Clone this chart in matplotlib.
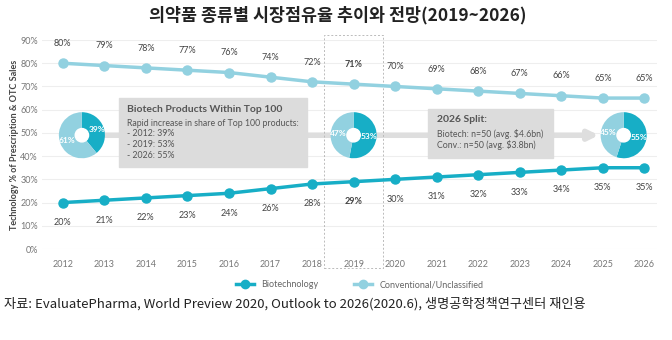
import numpy as np
import matplotlib
matplotlib.use("Agg")
import matplotlib.pyplot as plt
from matplotlib.patches import Rectangle, Circle
from matplotlib.lines import Line2D

# data
years = [2012, 2013, 2014, 2015, 2016, 2017, 2018, 2019, 2020, 2021, 2022, 2023, 2024, 2025, 2026]
biotech = [20, 21, 22, 23, 24, 26, 28, 29, 30, 31, 32, 33, 34, 35, 35]
conventional = [80, 79, 78, 77, 76, 74, 72, 71, 70, 69, 68, 67, 66, 65, 65]
pie_years = [2012.46, 2019, 2025.5]
pie_biotech = [39, 53, 55]
pie_conv = [61, 47, 45]
yticks = [0, 10, 20, 30, 40, 50, 60, 70, 80, 90]

title = "의약품 종류별 시장점유율 추이와 전망(2019~2026)"
source = "자료: EvaluatePharma, World Preview 2020, Outlook to 2026(2020.6), 생명공학정책연구센터 재인용"
box1_title = "Biotech Products Within Top 100"
box1_lines = ["Rapid increase in share of Top 100 products:", "- 2012: 39%", "- 2019: 53%", "- 2026: 55%"]
box2_title = "2026 Split:"
box2_lines = ["Biotech: n=50 (avg. $4.6bn)", "Conv.: n=50 (avg. $3.8bn)"]

c_bio = "#17aec6"
c_conv = "#92d1e0"
c_grey = "#dcdcdc"
c_text = "#555555"

plt.rcParams['font.family'] = ['Lato', 'DejaVu Sans']

fig = plt.figure(figsize=(6.72, 3.40), dpi=100)
ax = fig.add_axes([0.0625, 0.2676, 0.915, 0.6147])
ax.set_xlim(2011.5, 2026.3)
ax.set_ylim(0, 90)

for s in ax.spines.values():
    s.set_visible(False)
ax.set_yticks(yticks)
ax.set_yticklabels([f"{v}%" for v in yticks])
ax.set_xticks(years)
ax.tick_params(length=0, labelsize=6.5, labelcolor="#777777")
ax.tick_params(axis='x', pad=8)
ax.tick_params(axis='y', pad=3)
ax.grid(axis='y', color="#eeeeee", lw=0.8)
ax.set_axisbelow(True)
ax.set_ylabel("Technology % of Prescription & OTC Sales", fontsize=6.5,
              fontweight='bold', color="#444444", labelpad=1)

# connector line with arrow
ax.annotate("", xy=(2024.9, 49), xytext=(pie_years[0], 49),
            arrowprops=dict(arrowstyle="-|>", color="#dedede", lw=4,
                            mutation_scale=14, shrinkA=0, shrinkB=0), zorder=1)

# lines
ax.plot(years, conventional, '-o', color=c_conv, lw=2.5, ms=6.5, zorder=3)
ax.plot(years, biotech, '-o', color=c_bio, lw=2.5, ms=6.5, zorder=3)

for i, (x, b, c) in enumerate(zip(years, biotech, conventional)):
    w = 'bold' if x == 2019 else 'normal'
    ax.annotate(f"{c}%", (x, c), xytext=(0, 11), textcoords='offset points',
                ha='center', va='bottom', fontsize=6.5, color="#444444", fontweight=w)
    ax.annotate(f"{b}%", (x, b), xytext=(0, -11), textcoords='offset points',
                ha='center', va='top', fontsize=6.5, color="#444444", fontweight=w)

# boxes
ax.add_patch(Rectangle((2013.35, 35.3), 4.54, 29.8, color=c_grey, zorder=2))
ax.text(2013.55, 62, box1_title, fontsize=7.5, fontweight='bold', color=c_text,
        va='top', zorder=4)
for k, line in enumerate(box1_lines):
    ax.text(2013.55, 56.2 - k * 4.7, line, fontsize=6.3, color=c_text, va='top', zorder=4)

ax.add_patch(Rectangle((2020.8, 39.2), 3.0, 21.1, color=c_grey, zorder=2))
ax.text(2021.0, 57.8, box2_title, fontsize=7.5, fontweight='bold', color=c_text,
        va='top', zorder=4)
for k, line in enumerate(box2_lines):
    ax.text(2021.0, 51.8 - k * 4.7, line, fontsize=6.3, color=c_text, va='top', zorder=4)

# dashed highlight around 2019
ax.add_patch(Rectangle((2018.29, -8.2), 1.42, 100.4, fill=False, ls=(0, (2, 2)),
                       ec="#bbbbbb", lw=0.7, clip_on=False, zorder=1))

# donuts
for px, pb, pc in zip(pie_years, pie_biotech, pie_conv):
    iax = ax.inset_axes([px - 0.7, 49 - 12.4, 1.4, 24.8], transform=ax.transData, zorder=5)
    wedges, texts = iax.pie([pb, pc], colors=[c_bio, c_conv], startangle=90,
                            counterclock=False, labels=[f"{pb}%", f"{pc}%"], labeldistance=0.68,
                            wedgeprops=dict(width=0.72, edgecolor='none'),
                            textprops=dict(color='white', fontsize=6, fontweight='bold',
                                           ha='center', va='center'))
    iax.add_patch(Circle((0, 0), 0.29, color='white', zorder=3))
    iax.set_aspect('equal')
    iax.axis('off')

# legend
handles = [Line2D([0], [0], color=c_bio, lw=2.5, marker='o', ms=6),
           Line2D([0], [0], color=c_conv, lw=2.5, marker='o', ms=6)]
fig.legend(handles, ["Biotechnology", "Conventional/Unclassified"], loc='center',
           bbox_to_anchor=(0.535, 0.162), ncol=2, frameon=False, fontsize=6.5,
           handlelength=2.0, columnspacing=4.0, labelcolor="#666666")

fig.text(0.502, 0.955, title, ha='center', va='center', fontsize=12.5, fontweight='bold',
         family=['Noto Sans CJK KR', 'DejaVu Sans'], color="#222222")
fig.text(0.006, 0.108, source, ha='left', va='center', fontsize=9.5,
         family=['Noto Sans CJK KR', 'DejaVu Sans'], color="#222222")

fig.savefig("out.png", dpi=100, facecolor='white')
